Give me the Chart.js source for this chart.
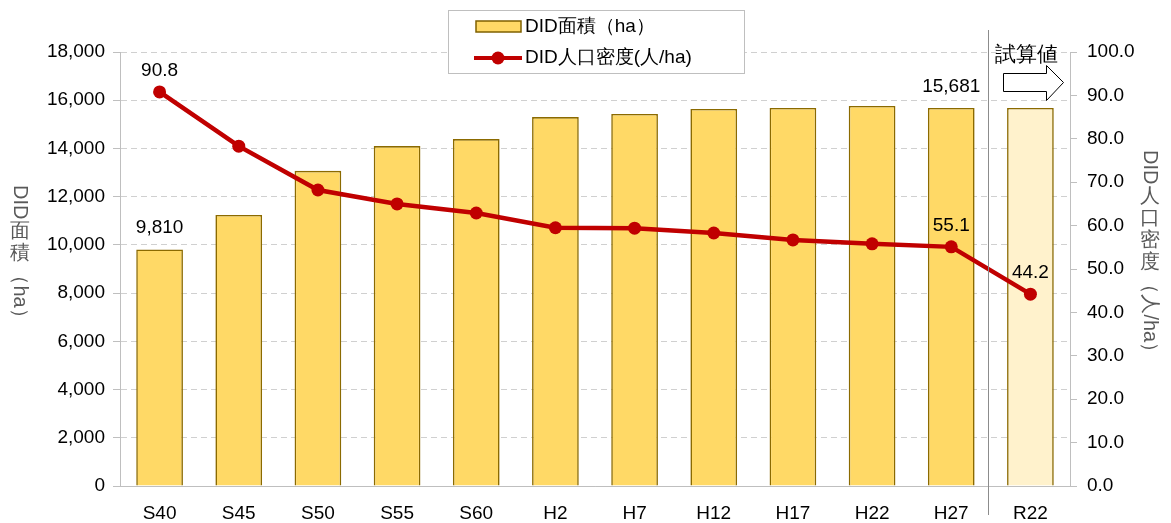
<!DOCTYPE html>
<html>
<head>
<meta charset="utf-8">
<script src="https://cdn.jsdelivr.net/npm/chart.js@4"></script>
<style>
  html, body { margin: 0; padding: 0; background: #fff; }
  #wrap { width: 1171px; height: 523px; position: relative; }
</style>
</head>
<body>
<div id="wrap"><canvas id="chart"></canvas></div>
<script>
// data
const categories = ["S40", "S45", "S50", "S55", "S60", "H2", "H7", "H12", "H17", "H22", "H27", "R22"];
const areaHa = [9810, 11240, 13070, 14100, 14390, 15300, 15430, 15640, 15680, 15760, 15681, 15681];
const densityPerHa = [90.8, 78.3, 68.2, 65.0, 62.9, 59.5, 59.4, 58.3, 56.7, 55.8, 55.1, 44.2];
const areaLabelIdx = [0, 10];
const densityLabelIdx = [0, 10, 11];
const estimateFrom = 11; // R22 is the trial estimate
const leftTicks = { min: 0, max: 18000, step: 2000 };
const rightTicks = { min: 0, max: 100, step: 10 };

const FONT = "Arial, 'Liberation Sans', sans-serif";
const barFill = categories.map((c, i) => i >= estimateFrom ? "#FFF2CC" : "#FFD966");

// vertical (tategaki) axis titles: [text, rotated]
function drawVertical(ctx, segs, x, y, size) {
  ctx.save();
  ctx.fillStyle = "#595959";
  ctx.font = size + "px " + FONT;
  segs.forEach(([txt, rot]) => {
    if (rot) {
      const w = ctx.measureText(txt).width;
      ctx.save();
      ctx.translate(x, y);
      ctx.rotate(Math.PI / 2);
      ctx.textAlign = "left";
      ctx.textBaseline = "middle";
      ctx.fillText(txt, 0, 0);
      ctx.restore();
      y += w + 2;
    } else {
      ctx.textAlign = "center";
      ctx.textBaseline = "top";
      for (const ch of txt) {
        ctx.fillText(ch, x, y);
        y += size + 2;
      }
    }
  });
  ctx.restore();
}

const extras = {
  id: "extras",
  afterDatasetsDraw(chart) {
    const ctx = chart.ctx;
    const xs = chart.scales.x;
    // separator between actual and estimate
    const sx = Math.round((xs.getPixelForValue(estimateFrom - 1) + xs.getPixelForValue(estimateFrom)) / 2) - 2.5;
    ctx.save();
    ctx.strokeStyle = "#8c8c8c";
    ctx.lineWidth = 1;
    ctx.beginPath();
    ctx.moveTo(sx, 30);
    ctx.lineTo(sx, 515);
    ctx.stroke();

    // 試算値 + arrow
    ctx.fillStyle = "#000";
    ctx.font = "21px " + FONT;
    ctx.textAlign = "left";
    ctx.textBaseline = "middle";
    ctx.fillText("試算値", sx + 6, 55);
    ctx.beginPath();
    ctx.moveTo(sx + 15, 73.5);
    ctx.lineTo(sx + 58, 73.5);
    ctx.lineTo(sx + 58, 65.5);
    ctx.lineTo(sx + 75, 82.5);
    ctx.lineTo(sx + 58, 100.5);
    ctx.lineTo(sx + 58, 91.5);
    ctx.lineTo(sx + 15, 91.5);
    ctx.closePath();
    ctx.fillStyle = "#fff";
    ctx.fill();
    ctx.strokeStyle = "#000";
    ctx.stroke();

    // data labels
    ctx.fillStyle = "#000";
    ctx.font = "19px " + FONT;
    ctx.textAlign = "center";
    ctx.textBaseline = "bottom";
    const barMeta = chart.getDatasetMeta(0);
    areaLabelIdx.forEach(i => {
      const el = barMeta.data[i];
      ctx.fillText(areaHa[i].toLocaleString("en-US"), el.x, el.y - 12);
    });
    const lineMeta = chart.getDatasetMeta(1);
    densityLabelIdx.forEach(i => {
      const el = lineMeta.data[i];
      ctx.fillText(densityPerHa[i].toFixed(1), el.x, el.y - 12);
    });

    // legend
    ctx.fillStyle = "#fff";
    ctx.fillRect(448, 10, 296, 63);
    ctx.strokeStyle = "#bfbfbf";
    ctx.lineWidth = 1;
    ctx.strokeRect(448.5, 10.5, 296, 63);
    ctx.fillStyle = "#FFD966";
    ctx.fillRect(476, 21, 45, 11);
    ctx.strokeStyle = "#7F6000";
    ctx.lineWidth = 1.5;
    ctx.strokeRect(476, 21, 45, 11);
    ctx.strokeStyle = "#C00000";
    ctx.lineWidth = 4;
    ctx.beginPath();
    ctx.moveTo(474, 58);
    ctx.lineTo(522, 58);
    ctx.stroke();
    ctx.fillStyle = "#C00000";
    ctx.beginPath();
    ctx.arc(498, 58, 6.5, 0, Math.PI * 2);
    ctx.fill();
    ctx.fillStyle = "#000";
    ctx.font = "19px " + FONT;
    ctx.textAlign = "left";
    ctx.textBaseline = "middle";
    ctx.fillText("DID面積（ha）", 525, 27);
    ctx.fillText("DID人口密度(人/ha)", 525, 58);
    ctx.restore();

    drawVertical(ctx, [["DID", true], ["面積", false], ["（ha）", true]], 20, 185, 20);
    drawVertical(ctx, [["DID", true], ["人口密度", false], ["（人/ha）", true]], 1150, 150, 20);
  }
};

new Chart(document.getElementById("chart"), {
  type: "bar",
  data: {
    labels: categories,
    datasets: [
      {
        type: "bar",
        label: "DID面積（ha）",
        data: areaHa,
        yAxisID: "y",
        backgroundColor: barFill,
        borderColor: "#8B6A00",
        borderWidth: 1.6,
        barPercentage: 0.59,
        categoryPercentage: 1,
        order: 2
      },
      {
        type: "line",
        label: "DID人口密度(人/ha)",
        data: densityPerHa,
        yAxisID: "y1",
        borderColor: "#C00000",
        backgroundColor: "#C00000",
        borderWidth: 4.5,
        pointRadius: 6.5,
        pointBackgroundColor: "#C00000",
        pointBorderWidth: 0,
        tension: 0,
        order: 1
      }
    ]
  },
  options: {
    responsive: true,
    maintainAspectRatio: false,
    animation: false,
    layout: { padding: { top: 52, bottom: 0, left: 0, right: 0 } },
    plugins: {
      legend: { display: false },
      tooltip: { enabled: false }
    },
    scales: {
      x: {
        offset: true,
        grid: { display: false },
        border: { color: "#bfbfbf", width: 1 },
        ticks: { color: "#000", font: { family: FONT, size: 19 }, padding: 8 },
        afterFit(s) { s.height = 37; }
      },
      y: {
        position: "left",
        min: leftTicks.min,
        max: leftTicks.max,
        grid: {
          color: "#d0d0d0",
          tickColor: "#bfbfbf",
          tickLength: 7,
          tickBorderDash: [],
          drawTicks: true
        },
        border: { color: "#bfbfbf", width: 1, dash: [6, 4] },
        ticks: {
          stepSize: leftTicks.step,
          color: "#000",
          font: { family: FONT, size: 19 },
          padding: 8,
          callback: v => v.toLocaleString("en-US")
        },
        afterFit(s) { s.width = 120; }
      },
      y1: {
        position: "right",
        min: rightTicks.min,
        max: rightTicks.max,
        grid: { drawOnChartArea: false, tickColor: "#bfbfbf", tickLength: 7 },
        border: { color: "#bfbfbf", width: 1 },
        ticks: {
          stepSize: rightTicks.step,
          color: "#000",
          font: { family: FONT, size: 19 },
          padding: 10,
          callback: v => v.toFixed(1)
        },
        afterFit(s) { s.width = 101; }
      }
    }
  },
  plugins: [extras]
});
</script>
</body>
</html>
